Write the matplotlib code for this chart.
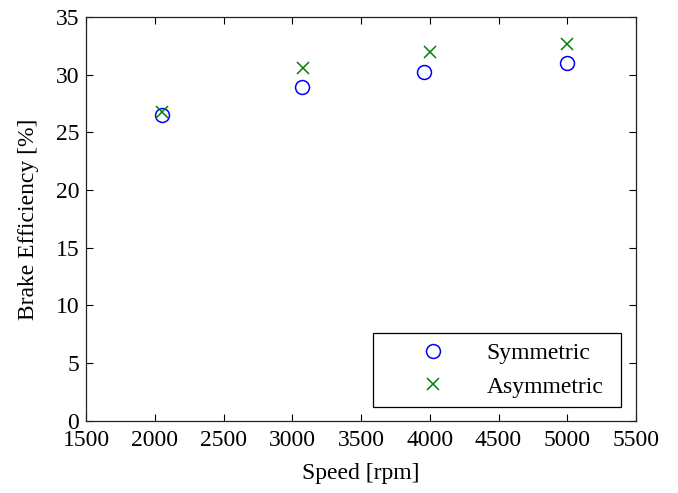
import matplotlib
matplotlib.use("Agg")
import matplotlib.pyplot as plt

# Brake efficiency vs engine speed for two configurations
speed_sym = [2050, 3070, 3960, 5000]
eff_sym = [26.5, 28.9, 30.2, 31.0]

speed_asym = [2055, 3080, 4000, 5000]
eff_asym = [26.8, 30.6, 32.0, 32.7]

x_ticks = [1500, 2000, 2500, 3000, 3500, 4000, 4500, 5000, 5500]
y_ticks = [0, 5, 10, 15, 20, 25, 30, 35]

plt.rcParams["font.family"] = ["Liberation Serif", "DejaVu Serif"]
FS = 17

fig = plt.figure(figsize=(6.78, 4.93), dpi=100)
ax = fig.add_axes([86 / 678, 1 - 420.7 / 493, 550 / 678, 403.7 / 493])

ax.plot(speed_sym, eff_sym, linestyle="none", marker="o", markersize=10,
        markerfacecolor="none", markeredgecolor="#0000ff", markeredgewidth=1.1,
        label="Symmetric")
ax.plot(speed_asym, eff_asym, linestyle="none", marker="x", markersize=8.5,
        color="#008000", markeredgewidth=1.1, label="Asymmetric")

ax.set_xlim(1500, 5500)
ax.set_ylim(0, 35)
ax.set_xticks(x_ticks)
ax.set_yticks(y_ticks)
ax.tick_params(direction="in", top=True, right=True, length=5, width=0.8,
               labelsize=FS)
ax.tick_params(axis="x", pad=7)
ax.tick_params(axis="y", pad=5)
for s in ax.spines.values():
    s.set_linewidth(0.9)
    s.set_color("#222222")

ax.set_xlabel("Speed [rpm]", fontsize=FS, labelpad=8)
ax.set_ylabel("Brake Efficiency [%]", fontsize=FS, labelpad=12)

# fixed-width legend box in the lower right corner
leg = ax.legend(loc="lower left", bbox_to_anchor=(0.5218, 0.034, 0.4509, 0.1),
                mode="expand", borderaxespad=0, fontsize=FS, frameon=True,
                fancybox=False, edgecolor="black", framealpha=1,
                handlelength=4.3, handletextpad=0.1, borderpad=0.4,
                labelspacing=0.5)
leg.get_frame().set_linewidth(0.9)

fig.savefig("out.png", dpi=100)
